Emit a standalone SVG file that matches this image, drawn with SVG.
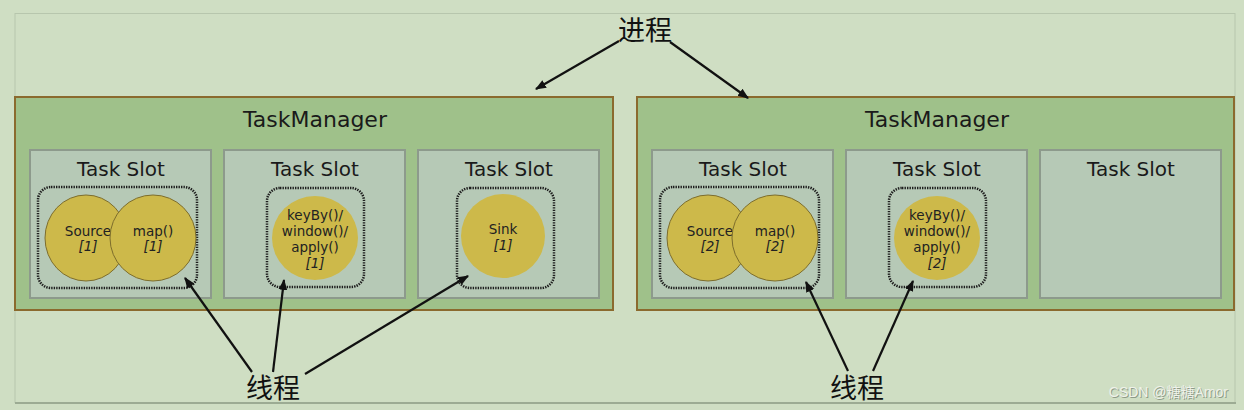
<svg xmlns="http://www.w3.org/2000/svg" width="1244" height="410" viewBox="0 0 1244 410">
<defs>
<marker id="ah" viewBox="0 0 10 10" refX="9" refY="5" markerWidth="5" markerHeight="5" orient="auto" markerUnits="strokeWidth">
<path d="M0,1 L10,5 L0,9 Z" fill="#111"/>
</marker>
<style>
.tm{fill:#9fc18a;stroke:#8b6a2e;stroke-width:2}
.slot{fill:#b6c9b6;stroke:#8d9a8c;stroke-width:2}
.grp{fill:none;stroke:#1e1e1e;stroke-width:2.5;stroke-dasharray:1.4 1.1}
.op{fill:#cdb94a;stroke:#7d6d2c;stroke-width:1}
.opn{fill:#cdb94a}
.tt{font-family:"DejaVu Sans",sans-serif;font-size:22px;fill:#1a1a1a;text-anchor:middle}
.st{font-family:"DejaVu Sans",sans-serif;font-size:20px;fill:#1a1a1a;text-anchor:middle}
.ot{font-family:"DejaVu Sans",sans-serif;font-size:13.5px;fill:#222;text-anchor:middle}
.oi{font-family:"DejaVu Sans",sans-serif;font-size:13.5px;fill:#222;text-anchor:middle;font-style:italic}
.cn{font-family:"Noto Sans CJK SC",sans-serif;font-size:27px;fill:#111;text-anchor:middle}
.ln{fill:none;stroke:#111;stroke-width:2.2;marker-end:url(#ah)}
.wm{font-family:"Liberation Sans","Noto Sans CJK SC",sans-serif;font-size:14px;text-anchor:end}
</style>
</defs>
<rect x="0" y="0" width="1244" height="410" fill="#cfdec3"/>
<rect x="15" y="13.5" width="1220" height="389" fill="#cfdec3" stroke="#b7c6ad" stroke-width="1"/>
<line x1="15" y1="403" x2="1236" y2="403" stroke="#9cab93" stroke-width="2"/>

<g id="tm1">
<rect class="tm" x="15" y="97" width="598" height="213"/>
<text class="tt" x="315" y="127">TaskManager</text>
</g>
<g id="tm1-slot1">
<rect class="slot" x="30" y="150" width="181" height="148"/>
<text class="st" x="121" y="176">Task Slot</text>
<rect class="grp" x="38" y="187" width="159" height="101" rx="13"/>
</g>
<g id="tm1-source">
<ellipse class="op" cx="86" cy="238" rx="41" ry="43"/>
<text class="ot" x="88" y="236">Source</text>
<text class="oi" x="88" y="251">[1]</text>
</g>
<g id="tm1-map">
<ellipse class="op" cx="153" cy="238" rx="43" ry="43"/>
<text class="ot" x="153" y="236">map()</text>
<text class="oi" x="153" y="251">[1]</text>
</g>
<g id="tm1-slot2">
<rect class="slot" x="224" y="150" width="181" height="148"/>
<text class="st" x="315" y="176">Task Slot</text>
<rect class="grp" x="267" y="188" width="97" height="99" rx="13"/>
</g>
<g id="tm1-keyby">
<ellipse class="opn" cx="315" cy="238" rx="43" ry="42"/>
<text class="ot" x="315" y="220">keyBy()/</text>
<text class="ot" x="315" y="236">window()/</text>
<text class="ot" x="315" y="252">apply()</text>
<text class="oi" x="315" y="268">[1]</text>
</g>
<g id="tm1-slot3">
<rect class="slot" x="418" y="150" width="181" height="148"/>
<text class="st" x="509" y="176">Task Slot</text>
<rect class="grp" x="457" y="188" width="97" height="100" rx="13"/>
</g>
<g id="tm1-sink">
<ellipse class="opn" cx="503" cy="236" rx="42" ry="42"/>
<text class="ot" x="503" y="234">Sink</text>
<text class="oi" x="503" y="250">[1]</text>
</g>

<g id="tm2">
<rect class="tm" x="637" y="97" width="597" height="213"/>
<text class="tt" x="937" y="127">TaskManager</text>
</g>
<g id="tm2-slot1">
<rect class="slot" x="652" y="150" width="181" height="148"/>
<text class="st" x="743" y="176">Task Slot</text>
<rect class="grp" x="660" y="187" width="159" height="101" rx="13"/>
</g>
<g id="tm2-source">
<ellipse class="op" cx="708" cy="238" rx="41" ry="43"/>
<text class="ot" x="710" y="236">Source</text>
<text class="oi" x="710" y="251">[2]</text>
</g>
<g id="tm2-map">
<ellipse class="op" cx="775" cy="238" rx="43" ry="43"/>
<text class="ot" x="775" y="236">map()</text>
<text class="oi" x="775" y="251">[2]</text>
</g>
<g id="tm2-slot2">
<rect class="slot" x="846" y="150" width="181" height="148"/>
<text class="st" x="937" y="176">Task Slot</text>
<rect class="grp" x="889" y="188" width="97" height="99" rx="13"/>
</g>
<g id="tm2-keyby">
<ellipse class="opn" cx="937" cy="238" rx="43" ry="42"/>
<text class="ot" x="937" y="220">keyBy()/</text>
<text class="ot" x="937" y="236">window()/</text>
<text class="ot" x="937" y="252">apply()</text>
<text class="oi" x="937" y="268">[2]</text>
</g>
<g id="tm2-slot3">
<rect class="slot" x="1040" y="150" width="181" height="148"/>
<text class="st" x="1131" y="176">Task Slot</text>
</g>

<g id="process-label">
<text class="cn" x="645" y="40">进程</text>
</g>
<g id="thread-label-1">
<text class="cn" x="273" y="398">线程</text>
</g>
<g id="thread-label-2">
<text class="cn" x="857" y="398">线程</text>
</g>

<g id="connectors">
<line class="ln" x1="619" y1="41" x2="536" y2="89"/>
<line class="ln" x1="670" y1="42" x2="748" y2="98"/>
<line class="ln" x1="252" y1="372" x2="185" y2="278"/>
<line class="ln" x1="273" y1="372" x2="284" y2="280"/>
<line class="ln" x1="305" y1="374" x2="468" y2="276"/>
<line class="ln" x1="848" y1="371" x2="806" y2="282"/>
<line class="ln" x1="873" y1="371" x2="913" y2="281"/>
</g>

<g id="watermark">
<text class="wm" x="1229" y="398" fill="#8e9b88">CSDN @糖糖Amor</text>
<text class="wm" x="1228" y="397" fill="#eef2ea">CSDN @糖糖Amor</text>
</g>
</svg>
